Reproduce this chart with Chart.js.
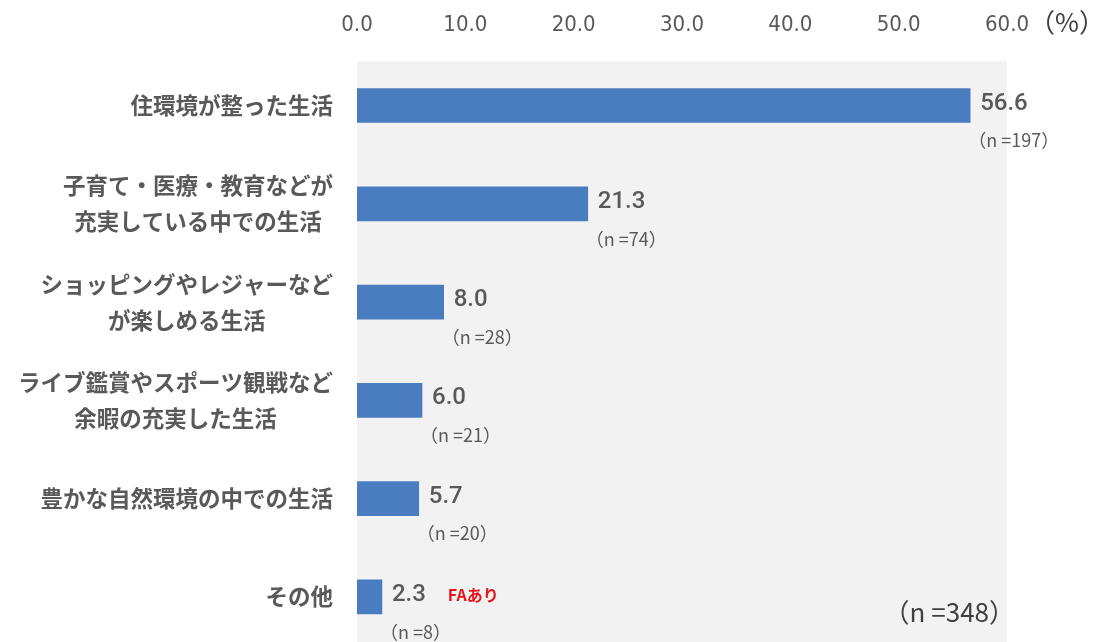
<!DOCTYPE html>
<html>
<head>
<meta charset="utf-8">
<script src="https://cdn.jsdelivr.net/npm/chart.js@4.4.1/dist/chart.umd.min.js"></script>
<style>
    html, body { margin: 0; padding: 0; background: #ffffff; overflow: hidden; }
    #wrap { position: relative; width: 1097px; height: 642px; overflow: hidden; }
</style>
</head>
<body>
<div id="wrap"><canvas id="lifeChart" width="1097" height="646"></canvas></div>
<script>
// data
const categories = [
    ["住環境が整った生活"],
    ["子育て・医療・教育などが", "充実している中での生活"],
    ["ショッピングやレジャーなど", "が楽しめる生活"],
    ["ライブ鑑賞やスポーツ観戦など", "余暇の充実した生活"],
    ["豊かな自然環境の中での生活"],
    ["その他"]
];
const percentValues = [56.6, 21.3, 8.0, 6.0, 5.7, 2.3];
const respondentCounts = [197, 74, 28, 21, 20, 8];
const notes = ["", "", "", "", "", "FAあり"];
const tickValues = [0, 10, 20, 30, 40, 50, 60];
const totalCount = 348;
const unitLabel = "（%）";

const textGray = "#595959";
const jpFont = '"Noto Sans CJK JP", "Noto Sans", sans-serif';
const numFont = 'Roboto, "Noto Sans", sans-serif';

const plotBackground = {
    id: "plotBackground",
    beforeDraw(chart) {
        let ctx = chart.ctx;
        let a = chart.chartArea;
        ctx.save();
        ctx.fillStyle = "#f2f2f2";
        ctx.fillRect(a.left, a.top + 5, a.right - a.left, a.bottom - a.top);
        ctx.restore();
    }
};

// category labels: block right aligned, lines centred on each other
const categoryLabels = {
    id: "categoryLabels",
    afterDraw(chart) {
        let ctx = chart.ctx;
        let yScale = chart.scales.y;
        let right = 333;
        let lineH = 36;
        ctx.save();
        ctx.font = "bold 22.5px " + jpFont;
        ctx.fillStyle = textGray;
        ctx.textAlign = "center";
        ctx.textBaseline = "middle";
        for (let i = 0; i < categories.length; i++) {
            let lines = categories[i];
            let maxW = 0;
            for (let l of lines)
                maxW = Math.max(maxW, ctx.measureText(l).width);
            let cx = right - maxW / 2;
            let cy = yScale.getPixelForTick(i);
            for (let j = 0; j < lines.length; j++)
                ctx.fillText(lines[j], cx, cy + (j - (lines.length - 1) / 2) * lineH);
        }
        ctx.restore();
    }
};

const valueLabels = {
    id: "valueLabels",
    afterDatasetsDraw(chart) {
        let ctx = chart.ctx;
        let meta = chart.getDatasetMeta(0);
        ctx.save();
        ctx.textBaseline = "middle";
        ctx.textAlign = "left";
        meta.data.forEach((bar, i) => {
            ctx.font = "500 24px " + numFont;
            ctx.fillStyle = textGray;
            let txt = percentValues[i].toFixed(1);
            ctx.fillText(txt, bar.x + 10, bar.y - 2);
            let w = ctx.measureText(txt).width;

            ctx.font = "18px " + jpFont;
            ctx.fillText("（n =" + respondentCounts[i] + "）", bar.x - 2, bar.y + 35);

            if (notes[i]) {
                ctx.font = "bold 16px " + jpFont;
                ctx.fillStyle = "#e8141c";
                ctx.fillText(notes[i], bar.x + 10 + w + 22, bar.y - 2);
            }
        });

        // unit after the last tick, total n at bottom right
        let xScale = chart.scales.x;
        ctx.font = "26px " + jpFont;
        ctx.fillStyle = "#404040";
        ctx.fillText(unitLabel, xScale.getPixelForValue(60) + 22, 22);
        ctx.font = "26px " + jpFont;
        ctx.textAlign = "right";
        ctx.fillText("（n =" + totalCount + "）", chart.chartArea.right + 8, 612);
        ctx.restore();
    }
};

function lifeChart(id) {
    const data = {
        labels: categories,
        datasets: [{
            data: percentValues,
            backgroundColor: "#4a7cc0",
            borderWidth: 0,
            barThickness: 34
        }]
    };

    const config = {
        type: "bar",
        data: data,
        options: {
            indexAxis: "y",
            responsive: false,
            animation: false,
            layout: { padding: { left: 357, right: 90, top: -6, bottom: 0 } },
            plugins: {
                legend: { display: false },
                tooltip: { enabled: false }
            },
            scales: {
                x: {
                    position: "top",
                    min: tickValues[0],
                    max: tickValues[tickValues.length - 1],
                    afterBuildTicks: (axis) => {
                        axis.ticks = tickValues.map(v => ({ value: v }));
                    },
                    grid: { display: false, drawTicks: false },
                    border: { display: false },
                    ticks: {
                        padding: 18,
                        color: textGray,
                        font: { family: '"DejaVu Sans Condensed", "Liberation Sans Narrow", sans-serif', size: 22 },
                        callback: (v) => Number(v).toFixed(1)
                    }
                },
                y: {
                    grid: { display: false, drawTicks: false },
                    border: { display: false },
                    ticks: { display: false }
                }
            }
        },
        plugins: [plotBackground, categoryLabels, valueLabels]
    };

    let ctx = document.getElementById(id).getContext("2d");
    new Chart(ctx, config);
}

lifeChart("lifeChart");
</script>
</body>
</html>
